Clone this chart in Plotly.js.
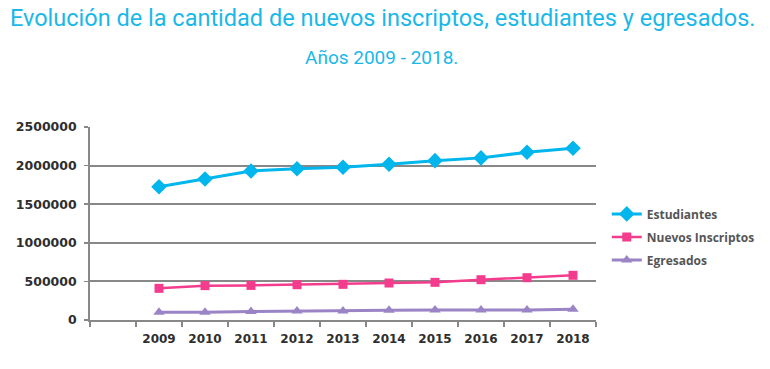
<!DOCTYPE html>
<html><head><meta charset="utf-8">
<script src="https://cdn.plot.ly/plotly-3.0.1.min.js"></script>
<style>body{margin:0;background:#fff}#c{width:770px;height:369px}</style>
</head><body><div id="c"></div>
<script>
var categories = [" ", "2009", "2010", "2011", "2012", "2013", "2014", "2015", "2016", "2017", "2018"];
var years = ["2009", "2010", "2011", "2012", "2013", "2014", "2015", "2016", "2017", "2018"];
var estudiantes = [1727000, 1826000, 1930000, 1960000, 1978000, 2017000, 2064000, 2100000, 2172000, 2224000];
var nuevosInscriptos = [410000, 445000, 448000, 457000, 462000, 479000, 488000, 522000, 548000, 579000];
var egresados = [100000, 100000, 110000, 118000, 118000, 125000, 128000, 128000, 130000, 138000];
var yTicks = [0, 500000, 1000000, 1500000, 2000000, 2500000];

var traces = [
  {x: years, y: estudiantes, name: "Estudiantes", type: "scatter", mode: "lines+markers", legendgroup: "a",
   line: {color: "#00b6ec", width: 3}, marker: {symbol: "diamond", size: 12, color: "#00b6ec"}},
  {x: years, y: nuevosInscriptos, name: "Nuevos Inscriptos", type: "scatter", mode: "lines+markers", legendgroup: "b",
   line: {color: "#f43c8e", width: 2.5}, marker: {symbol: "square", size: 9, color: "#f43c8e"}},
  {x: years, y: egresados, name: "Egresados", type: "scatter", mode: "lines+markers", legendgroup: "c",
   line: {color: "#9b84c6", width: 3}, marker: {symbol: "triangle-up", size: 10, color: "#9b84c6"}}
];

var layout = {
  width: 770, height: 369,
  margin: {l: 90, r: 174, t: 127, b: 49},
  paper_bgcolor: "#fff", plot_bgcolor: "#fff",
  showlegend: true,
  title: {text: "Evolución de la cantidad de nuevos inscriptos, estudiantes y egresados.",
    xref: "container", yref: "container", x: 0.497, xanchor: "center", y: 0.975, yanchor: "top",
    font: {family: "Roboto", size: 23.5, color: "#1ab8e8"}},
  annotations: [
    {text: "Años 2009 - 2018.", xref: "paper", yref: "paper", x: 0.577, y: 1.43, yanchor: "top", xanchor: "center",
     showarrow: false, font: {family: "Roboto", size: 19, color: "#1ab8e8"}}
  ],
  xaxis: {
    type: "category", categoryorder: "array", categoryarray: categories,
    range: [-0.5, 10.5], tickson: "boundaries", ticks: "outside", ticklen: 5, tickwidth: 1.5, tickcolor: "#888",
    showline: true, linecolor: "#888", linewidth: 1.8, showgrid: false, zeroline: false, automargin: false,
    tickfont: {family: "DejaVu Sans", size: 12, color: "#2e2e2e", weight: "bold"}, ticklabelstandoff: 7
  },
  yaxis: {
    range: [0, 2500000], tickvals: yTicks, ticktext: yTicks.map(String), automargin: false,
    ticks: "outside", ticklen: 4, tickwidth: 1.5, tickcolor: "#888",
    showline: true, linecolor: "#888", linewidth: 1.8, showgrid: true, gridcolor: "#888", gridwidth: 1.8,
    zeroline: false, tickfont: {family: "DejaVu Sans", size: 12.5, color: "#2e2e2e", weight: "bold"}, ticklabelstandoff: 5
  },
  legend: {xref: "container", yref: "container", x: 0.788, xanchor: "left", y: 0.358, yanchor: "middle",
    traceorder: "grouped", tracegroupgap: 4,
    font: {family: "Open Sans", size: 12, color: "#555", weight: "bold"}, bgcolor: "rgba(0,0,0,0)"}
};
Plotly.newPlot("c", traces, layout, {displayModeBar: false, staticPlot: true});
</script></body></html>
